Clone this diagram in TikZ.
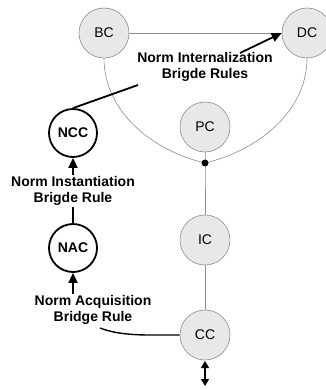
\documentclass[tikz,border=0pt]{standalone}
\usepackage{fontspec}
\setmainfont{Liberation Sans}
\usetikzlibrary{arrows.meta,calc}
\begin{document}
\begin{tikzpicture}[x=1pt,y=-1pt,
  gcirc/.style={circle,draw=black!45,fill=black!9,line width=0.6pt,minimum size=50pt,inner sep=0pt,font=\fontsize{14}{14}\selectfont},
  bcirc/.style={circle,draw=black,fill=white,line width=1.8pt,minimum size=48pt,inner sep=0pt,font=\bfseries\fontsize{14}{14}\selectfont},
  glink/.style={draw=black!45,line width=0.6pt},
  blink/.style={draw=black,line width=1.8pt},
  barr/.style={blink,-{Triangle[length=10pt,width=9pt]}},
  lbl/.style={align=center,font=\bfseries\fontsize{14}{16}\selectfont,inner sep=1pt}
]
\useasboundingbox (0,0) rectangle (325,390);
\node[gcirc] (bc) at (104,33) {BC};
\node[gcirc] (dc) at (307,33) {DC};
\node[gcirc] (pc) at (205,127) {PC};
\node[gcirc] (ic) at (205,240) {IC};
\node[gcirc] (cc) at (205,335) {CC};
\node[bcirc] (ncc) at (73,133) {NCC};
\node[bcirc] (nac) at (73,248) {NAC};
\coordinate (j) at (205,163);
\node[lbl] (nib) at (205,67) {Norm Internalization\\Brigde Rules};
\node[lbl] (nis) at (73,191) {Norm Instantiation\\Brigde Rule};
\node[lbl] (nab) at (93,310) {Norm Acquisition\\Bridge Rule};
\coordinate (ni1) at (240,53);
\coordinate (ni2) at (138,85);
\coordinate (na1) at (100,328);
\coordinate (cb1) at (205,361);
\coordinate (cb2) at (205,386);
% gray links
\draw[glink] (bc) -- (dc);
\draw[glink] (bc.south) .. controls (104,110) and (150,150) .. (j);
\draw[glink] (dc.south) .. controls (307,110) and (260,150) .. (j);
\draw[glink] (pc) -- (j) -- (ic);
\draw[glink] (ic) -- (cc);
\fill (j) circle (3.5pt);
% black links
\draw[blink] (ncc.north) -- (ni2);
\draw[barr] (ni1) -- (dc.west);
\draw[blink] (nac.north) -- (nis.south);
\draw[barr] (nis.north) -- (ncc.south);
\draw[barr] (nab.north -| nac.south) -- (nac.south);
\draw[blink,line width=1.4pt] (cc.west) -- (150,335) .. controls (125,335) and (110,332) .. (na1);
\draw[black,line width=1.2pt,{Triangle[length=7pt,width=8pt]}-{Triangle[length=7pt,width=8pt]}] (cb1) -- (cb2);
\end{tikzpicture}
\end{document}
